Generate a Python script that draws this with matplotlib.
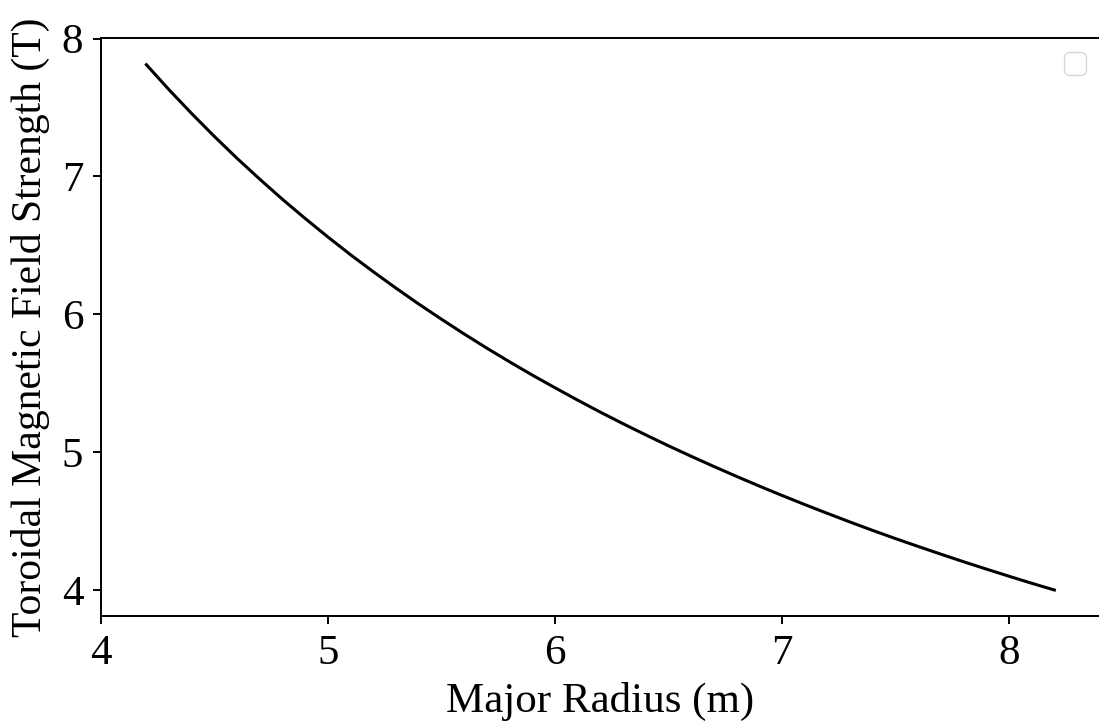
import matplotlib
matplotlib.use("Agg")
import matplotlib.pyplot as plt

# valores: raio maior (m) e campo toroidal (T)
raio = [4.2, 4.3, 4.4, 4.5, 4.6, 4.7, 4.8, 4.9, 5.0, 5.1, 5.2,
        5.3, 5.4, 5.5, 5.6, 5.7, 5.8, 5.9, 6.0, 6.1, 6.2,
        6.3, 6.4, 6.5, 6.6, 6.7, 6.8, 6.9, 7.0, 7.1, 7.2,
        7.3, 7.4, 7.5, 7.6, 7.7, 7.8, 7.9, 8.0, 8.1, 8.2]
campo = [7.810, 7.628, 7.455, 7.289, 7.130, 6.979, 6.833, 6.694, 6.560, 6.431, 6.308,
         6.189, 6.074, 5.964, 5.857, 5.754, 5.655, 5.559, 5.467, 5.377, 5.290,
         5.206, 5.125, 5.046, 4.970, 4.896, 4.824, 4.754, 4.686, 4.620, 4.556,
         4.493, 4.432, 4.373, 4.316, 4.260, 4.205, 4.152, 4.100, 4.049, 4.000]

plt.rcParams['font.family'] = ['Liberation Serif', 'DejaVu Serif']
plt.rcParams['font.size'] = 31

fig = plt.figure(figsize=(10.99, 7.27), dpi=100)
ax = fig.add_axes([101 / 1099, 0.1523, 0.9088, 0.7948])

ax.plot(raio, campo, color='black', linewidth=2.2)
ax.set_xlabel('Major Radius (m)', labelpad=7)
ax.set_ylabel('Toroidal Magnetic Field Strength (T)', fontsize=30, labelpad=8.5)
ax.set_xticks([4, 5, 6, 7, 8])
ax.set_yticks([4, 5, 6, 7, 8])

for s in ax.spines.values():
    s.set_linewidth(1.4)
ax.tick_params(width=1.4, length=5.8, pad=7)

ax.legend(fontsize=20)

fig.savefig('out.png', dpi=100)
